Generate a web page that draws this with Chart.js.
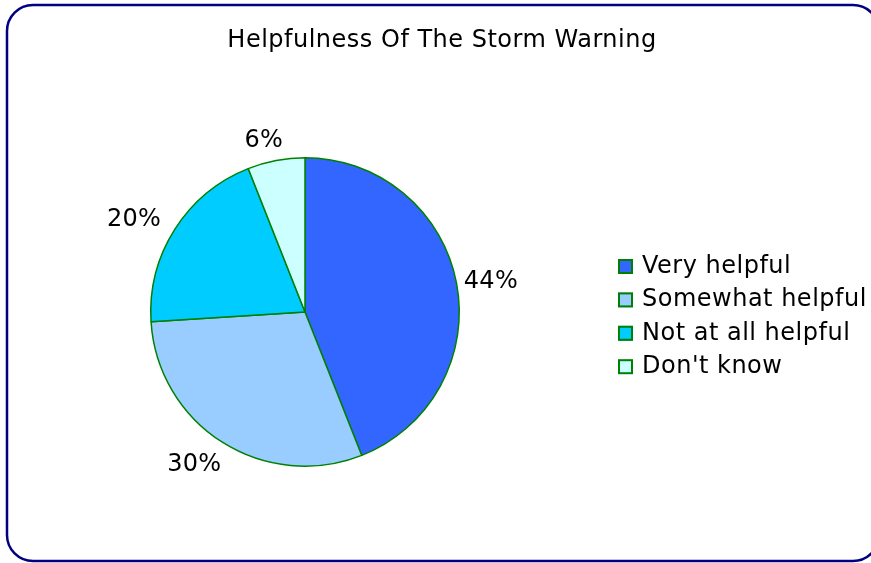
<!DOCTYPE html>
<html>
<head>
<meta charset="utf-8">
<script src="https://cdn.jsdelivr.net/npm/chart.js@4.4.1/dist/chart.umd.min.js"></script>
<style>
html,body{margin:0;padding:0;background:#fff;}
#wrap{position:relative;width:871px;height:563px;}
canvas{display:block;}
</style>
</head>
<body>
<div id="wrap"><canvas id="c" width="871" height="563"></canvas></div>
<script>
const titleText = 'Helpfulness Of The Storm Warning';
const categories = ['Very helpful', 'Somewhat helpful', 'Not at all helpful', "Don't know"];
const percentValues = [44, 30, 20, 6];
const sliceColors = ['#3366FF', '#99CCFF', '#00CCFF', '#CCFFFF'];
const edgeColor = '#008000';
const FONT = '"DejaVu Sans", Verdana, sans-serif';

const framePlugin = {
  id: 'frame',
  beforeDraw(chart) {
    const ctx = chart.ctx;
    ctx.save();
    ctx.fillStyle = '#fff';
    ctx.fillRect(0, 0, chart.width, chart.height);
    const x = 7, y = 5, w = 872, h = 556, r = 26;
    ctx.beginPath();
    ctx.moveTo(x + r, y);
    ctx.lineTo(x + w - r, y);
    ctx.arcTo(x + w, y, x + w, y + r, r);
    ctx.lineTo(x + w, y + h - r);
    ctx.arcTo(x + w, y + h, x + w - r, y + h, r);
    ctx.lineTo(x + r, y + h);
    ctx.arcTo(x, y + h, x, y + h - r, r);
    ctx.lineTo(x, y + r);
    ctx.arcTo(x, y, x + r, y, r);
    ctx.closePath();
    ctx.lineWidth = 2.5;
    ctx.strokeStyle = '#000080';
    ctx.stroke();
    // title
    ctx.fillStyle = '#000';
    ctx.font = '24px ' + FONT;
    ctx.letterSpacing = '0.5px';
    ctx.textAlign = 'center';
    ctx.textBaseline = 'alphabetic';
    ctx.fillText(titleText, 442, 47);
    ctx.restore();
  },
  afterDraw(chart) {
    const ctx = chart.ctx;
    const meta = chart.getDatasetMeta(0);
    ctx.save();
    ctx.font = '24px ' + FONT;
    ctx.letterSpacing = '0.3px';
    ctx.fillStyle = '#000';
    ctx.textBaseline = 'alphabetic';
    ctx.textAlign = 'center';
    meta.data.forEach((arc, i) => {
      const mid = (arc.startAngle + arc.endAngle) / 2;
      const c = Math.cos(mid), s = Math.sin(mid);
      const txt = percentValues[i] + '%';
      const w = ctx.measureText(txt).width;
      const capH = 18;
      const R = arc.outerRadius + 14;
      const cx = arc.x - 6 + c * (R + w / 2);
      const cy = arc.y + s * (R + capH / 2);
      ctx.fillText(txt, cx, cy + capH / 2);
    });
    // legend
    ctx.letterSpacing = '0.5px';
    ctx.textAlign = 'left';
    const lx = 618, base0 = 273, step = 33.4;
    categories.forEach((lab, i) => {
      const yb = base0 + i * step;
      ctx.fillStyle = sliceColors[i];
      ctx.fillRect(lx, yb - 14, 15, 15);
      ctx.lineWidth = 2;
      ctx.strokeStyle = edgeColor;
      ctx.strokeRect(lx + 1, yb - 13, 13, 13);
      ctx.fillStyle = '#000';
      ctx.fillText(lab, lx + 24, yb);
    });
    ctx.restore();
  }
};

new Chart(document.getElementById('c'), {
  type: 'pie',
  data: {
    labels: categories,
    datasets: [{
      data: percentValues,
      backgroundColor: sliceColors,
      borderColor: edgeColor,
      borderWidth: 1.5,
      hoverOffset: 0
    }]
  },
  options: {
    responsive: false,
    animation: false,
    events: [],
    layout: { padding: { left: 150, right: 411, top: 157, bottom: 96 } },
    plugins: {
      legend: { display: false },
      title: { display: false },
      tooltip: { enabled: false }
    }
  },
  plugins: [framePlugin]
});
</script>
</body>
</html>
